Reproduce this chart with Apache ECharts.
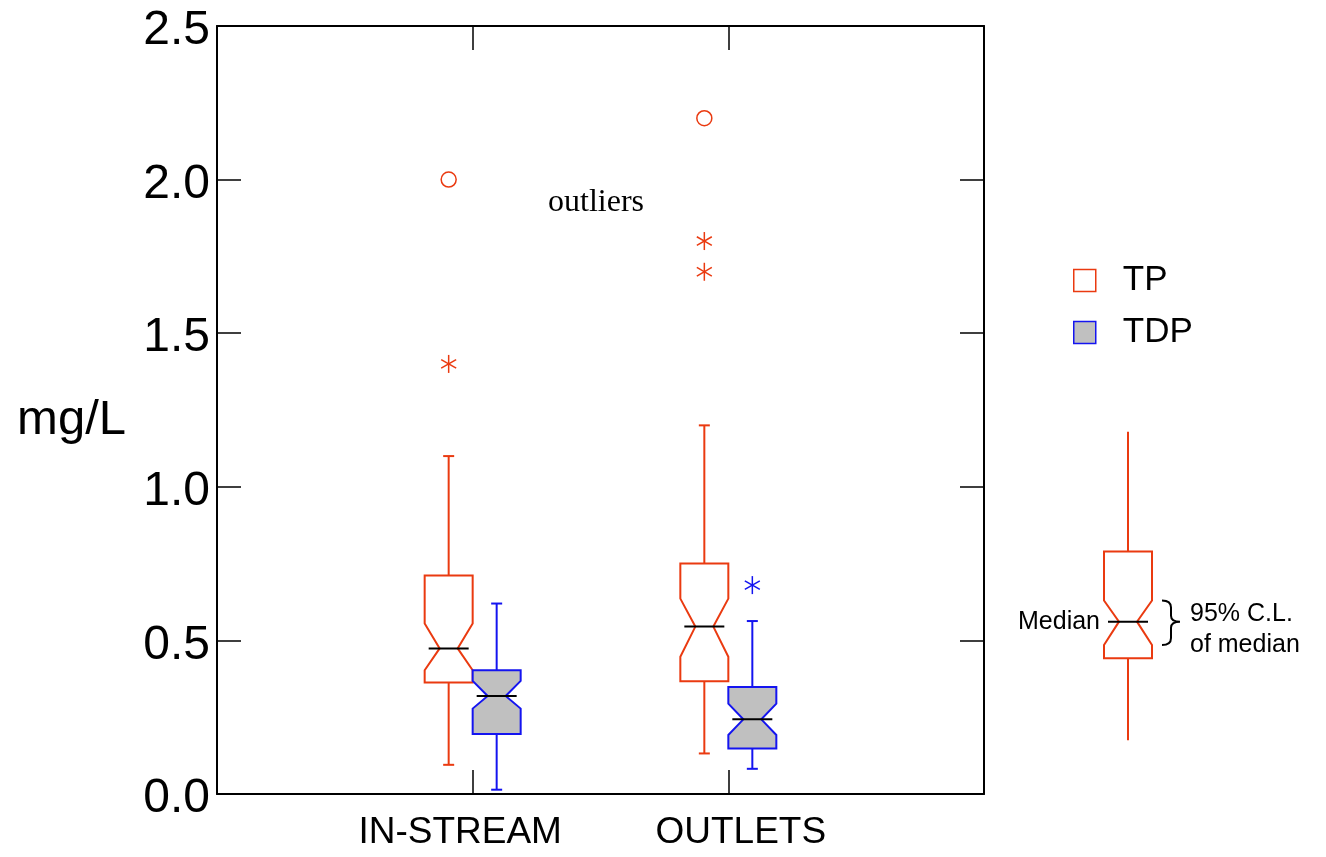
<!DOCTYPE html>
<html>
<head>
<meta charset="utf-8">
<style>
  html, body { margin: 0; padding: 0; background: #fff; }
  #chart { width: 1326px; height: 857px; }
</style>
<script src="https://cdn.jsdelivr.net/npm/echarts@6/dist/echarts.min.js"></script>
</head>
<body>
<div id="chart"></div>
<script>
// ---- data ----
const categories = ['IN-STREAM', 'OUTLETS'];
const yTicks = [0, 0.5, 1.0, 1.5, 2.0, 2.5];
// [category position, lower whisker, Q1, notch low, median, notch high, Q3, upper whisker]
const tpBoxes = [
  [1, 0.095, 0.363, 0.403, 0.474, 0.555, 0.711, 1.10],
  [2, 0.132, 0.367, 0.447, 0.545, 0.636, 0.750, 1.20]
];
const tdpBoxes = [
  [1, 0.014, 0.195, 0.278, 0.319, 0.368, 0.403, 0.62],
  [2, 0.082, 0.148, 0.192, 0.243, 0.294, 0.348, 0.563]
];
// outliers: [category position, value]
const tpOutside = [[1, 1.4], [2, 1.8], [2, 1.7]];
const tpFarOutside = [[1, 2.0], [2, 2.2]];
const tdpOutside = [[2, 0.68]];
const tdpFarOutside = [];
// explanatory key glyph
const keyBox = [[1, 0.175, 0.442, 0.485, 0.561, 0.630, 0.789, 1.179]];

const RED = '#ea3a10';
const BLUE = '#1414f0';
const GRAY = '#c0c0c0';
const SANS = '"Liberation Sans", Arial, Helvetica, sans-serif';
const SERIF = '"Liberation Serif", "Times New Roman", serif';

function boxRenderer(offset, stroke, fill, caps, annotate) {
  return function (params, api) {
    const x = api.value(0);
    const ys = [1, 2, 3, 4, 5, 6, 7].map(i => api.coord([x, api.value(i)])[1]);
    const wl = ys[0], q1 = ys[1], nl = ys[2], med = ys[3], nh = ys[4], q3 = ys[5], wh = ys[6];
    const cx = api.coord([x, 0])[0] + offset;
    const hw = 24, nd = 15, cap = 5.5, mh = 20;
    const L = cx - hw, R = cx + hw;
    const children = [
      { type: 'line', shape: { x1: cx, y1: q3, x2: cx, y2: wh }, style: { stroke: stroke, lineWidth: 2 } },
      { type: 'line', shape: { x1: cx, y1: q1, x2: cx, y2: wl }, style: { stroke: stroke, lineWidth: 2 } },
      { type: 'polygon', shape: { points: [[L, q3], [R, q3], [R, nh], [R - nd, med], [R, nl], [R, q1], [L, q1], [L, nl], [L + nd, med], [L, nh]] },
        style: { fill: fill, stroke: stroke, lineWidth: 2, lineJoin: 'miter' } },
      { type: 'line', shape: { x1: cx - mh, y1: med, x2: cx + mh, y2: med }, style: { stroke: '#000', lineWidth: 2 } }
    ];
    if (caps) {
      children.push({ type: 'line', shape: { x1: cx - cap, y1: wh, x2: cx + cap, y2: wh }, style: { stroke: stroke, lineWidth: 2 } });
      children.push({ type: 'line', shape: { x1: cx - cap, y1: wl, x2: cx + cap, y2: wl }, style: { stroke: stroke, lineWidth: 2 } });
    }
    if (annotate) {
      children.push({ type: 'text', style: { text: 'Median', x: cx - 28, y: med, align: 'right', verticalAlign: 'middle',
        font: '25px ' + SANS, fill: '#000' } });
      const bx = cx + 34;
      const mid = med;
      children.push({ type: 'path', shape: { pathData:
        'M' + bx + ',' + nh +
        ' Q' + (bx + 9) + ',' + nh + ' ' + (bx + 9) + ',' + (nh + 7) +
        ' L' + (bx + 9) + ',' + (mid - 6) +
        ' Q' + (bx + 9) + ',' + mid + ' ' + (bx + 18) + ',' + mid +
        ' Q' + (bx + 9) + ',' + mid + ' ' + (bx + 9) + ',' + (mid + 6) +
        ' L' + (bx + 9) + ',' + (nl - 7) +
        ' Q' + (bx + 9) + ',' + nl + ' ' + bx + ',' + nl },
        style: { fill: 'none', stroke: '#000', lineWidth: 2 } });
      children.push({ type: 'text', style: { text: '95% C.L.\nof median', x: cx + 62, y: med + 8, align: 'left', verticalAlign: 'middle',
        font: '25px ' + SANS, lineHeight: 31, fill: '#000' } });
    }
    return { type: 'group', children: children };
  };
}

function outlierRenderer(offset, stroke, kind) {
  return function (params, api) {
    const p = api.coord([api.value(0), api.value(1)]);
    const cx = p[0] + offset, cy = p[1];
    if (kind === 'circle') {
      return { type: 'circle', shape: { cx: cx, cy: cy, r: 7.5 }, style: { fill: 'none', stroke: stroke, lineWidth: 1.5 } };
    }
    const a = 7.5, b = 4.3, v = 9;
    return { type: 'group', children: [
      { type: 'line', shape: { x1: cx, y1: cy - v, x2: cx, y2: cy + v }, style: { stroke: stroke, lineWidth: 1.5 } },
      { type: 'line', shape: { x1: cx - a, y1: cy - b, x2: cx + a, y2: cy + b }, style: { stroke: stroke, lineWidth: 1.5 } },
      { type: 'line', shape: { x1: cx - a, y1: cy + b, x2: cx + a, y2: cy - b }, style: { stroke: stroke, lineWidth: 1.5 } }
    ] };
  };
}

const chart = echarts.init(document.getElementById('chart'), null, { renderer: 'canvas' });

const frameLine = { show: true, onZero: false, lineStyle: { color: '#000', width: 2 } };
const inTick = { show: true, inside: true, length: 24, lineStyle: { color: '#000', width: 1.5 } };

const option = {
  animation: false,
  backgroundColor: '#fff',
  textStyle: { fontFamily: SANS },
  grid: [
    { left: 217, right: 342, top: 26, bottom: 63 },
    { left: 1078, width: 100, top: 26, bottom: 63 }
  ],
  xAxis: [
    { gridIndex: 0, type: 'value', position: 'bottom', min: 0, max: 3, interval: 1,
      axisLine: frameLine, axisTick: inTick, splitLine: { show: false },
      axisLabel: { show: true, margin: 20, color: '#000', fontSize: 37, fontFamily: SANS,
        formatter: function (v) {
          if (v === 1) return '{l|' + categories[0] + '}';
          if (v === 2) return '{r|' + categories[1] + '}';
          return '';
        },
        rich: {
          l: { fontSize: 37, fontFamily: SANS, color: '#000', padding: [0, 25, 0, 0] },
          r: { fontSize: 37, fontFamily: SANS, color: '#000', padding: [0, 0, 0, 25] }
        } } },
    { gridIndex: 0, type: 'value', position: 'top', min: 0, max: 3, interval: 1,
      axisLine: frameLine, axisTick: inTick, splitLine: { show: false }, axisLabel: { show: false } },
    { gridIndex: 1, type: 'value', min: 0, max: 2, show: false }
  ],
  yAxis: [
    { gridIndex: 0, type: 'value', position: 'left', min: yTicks[0], max: yTicks[yTicks.length - 1], interval: 0.5,
      axisLine: frameLine, axisTick: inTick, splitLine: { show: false },
      axisLabel: { margin: 7, color: '#000', fontSize: 48, fontFamily: SANS,
        formatter: v => '{t|' + v.toFixed(1) + '}',
        rich: { t: { fontSize: 48, fontFamily: SANS, color: '#000', padding: [10, 0, 0, 0] } } },
      name: '{n|mg/L}', nameLocation: 'middle', nameRotate: 0, nameGap: 91,
      nameTextStyle: { fontSize: 49, fontFamily: SANS, color: '#000', align: 'right', verticalAlign: 'middle',
        rich: { n: { fontSize: 49, fontFamily: SANS, color: '#000', padding: [20, 0, 0, 0] } } } },
    { gridIndex: 0, type: 'value', position: 'right', min: yTicks[0], max: yTicks[yTicks.length - 1], interval: 0.5,
      axisLine: frameLine, axisTick: inTick, splitLine: { show: false }, axisLabel: { show: false } },
    { gridIndex: 1, type: 'value', min: yTicks[0], max: yTicks[yTicks.length - 1], show: false }
  ],
  legend: {
    orient: 'vertical', left: 1073, top: 263, itemWidth: 22, itemHeight: 22, itemGap: 17, padding: 0,
    selectedMode: false,
    textStyle: { fontSize: 35, fontFamily: SANS, color: '#000', padding: [0, 0, 0, 22] },
    data: [
      { name: 'TP', icon: 'rect', itemStyle: { color: '#fff', borderColor: RED, borderWidth: 1.5 } },
      { name: 'TDP', icon: 'rect', itemStyle: { color: GRAY, borderColor: BLUE, borderWidth: 1.5 } }
    ]
  },
  graphic: [
    { type: 'text', left: 548, top: 187, style: { text: 'outliers', font: '32px ' + SERIF, fill: '#000' } }
  ],
  series: [
    { name: 'TP', type: 'custom', xAxisIndex: 0, yAxisIndex: 0, data: tpBoxes,
      itemStyle: { color: '#fff', borderColor: RED }, renderItem: boxRenderer(-24, RED, '#fff', true, false) },
    { name: 'TDP', type: 'custom', xAxisIndex: 0, yAxisIndex: 0, data: tdpBoxes,
      itemStyle: { color: GRAY, borderColor: BLUE }, renderItem: boxRenderer(24, BLUE, GRAY, true, false) },
    { name: 'TP', type: 'custom', xAxisIndex: 0, yAxisIndex: 0, data: tpOutside, renderItem: outlierRenderer(-24, RED, 'star') },
    { name: 'TP', type: 'custom', xAxisIndex: 0, yAxisIndex: 0, data: tpFarOutside, renderItem: outlierRenderer(-24, RED, 'circle') },
    { name: 'TDP', type: 'custom', xAxisIndex: 0, yAxisIndex: 0, data: tdpOutside, renderItem: outlierRenderer(24, BLUE, 'star') },
    { name: 'TDP', type: 'custom', xAxisIndex: 0, yAxisIndex: 0, data: tdpFarOutside, renderItem: outlierRenderer(24, BLUE, 'circle') },
    { name: 'key', type: 'custom', xAxisIndex: 2, yAxisIndex: 2, data: keyBox, renderItem: boxRenderer(0, RED, '#fff', false, true) }
  ]
};
chart.setOption(option);
</script>
</body>
</html>
